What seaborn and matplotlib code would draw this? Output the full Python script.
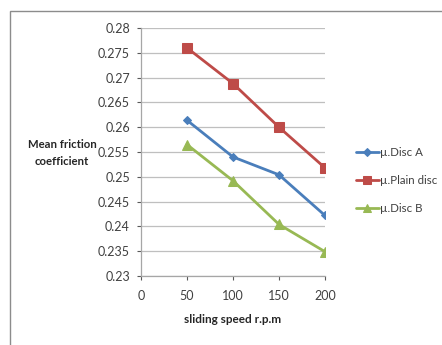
import matplotlib
matplotlib.use("Agg")
import matplotlib.pyplot as plt
import seaborn as sns
import pandas as pd
from matplotlib.patches import Rectangle

speeds = [50, 100, 150, 200]
disc_a = [0.2614, 0.2540, 0.2504, 0.2422]
plain_disc = [0.2760, 0.2688, 0.2600, 0.2518]
disc_b = [0.2565, 0.2492, 0.2404, 0.2349]
series_names = ["µ.Disc A", "µ.Plain disc", "µ.Disc B"]
y_ticks = [0.23, 0.235, 0.24, 0.245, 0.25, 0.255, 0.26, 0.265, 0.27, 0.275, 0.28]
y_tick_labels = ["0.23", "0.235", "0.24", "0.245", "0.25", "0.255", "0.26", "0.265", "0.27", "0.275", "0.28"]
x_ticks = [0, 50, 100, 150, 200]

rows = []
for name, vals in zip(series_names, [disc_a, plain_disc, disc_b]):
    for s, v in zip(speeds, vals):
        rows.append({"speed": s, "mu": v, "series": name})
df = pd.DataFrame(rows)

sns.set_theme(style="white")
plt.rcParams['font.family'] = ['Lato', 'DejaVu Sans']

fig = plt.figure(figsize=(4.42, 3.45), dpi=100)
fig.patch.set_facecolor("white")
fig.patches.append(Rectangle((10/442, -0.1), 1.2, (345-11)/345 + 0.1, transform=fig.transFigure,
                             fill=False, edgecolor="#8c8c8c", linewidth=1.0))
ax = fig.add_axes([141/442, 69/345, 184/442, 248/345])

palette = {"µ.Disc A": "#4A7EBB", "µ.Plain disc": "#BE4B48", "µ.Disc B": "#98B954"}
markers = {"µ.Disc A": "D", "µ.Plain disc": "s", "µ.Disc B": "^"}
sizes = {"µ.Disc A": 4.5, "µ.Plain disc": 7, "µ.Disc B": 7}

for name in series_names:
    sub = df[df.series == name]
    sns.lineplot(data=sub, x="speed", y="mu", ax=ax, color=palette[name], marker=markers[name],
                 markersize=sizes[name], markeredgecolor=palette[name], linewidth=2.0, label=name)

ax.set_xlim(0, 200)
ax.set_ylim(0.23, 0.28)
ax.set_yticks(y_ticks)
ax.set_yticklabels(y_tick_labels)
ax.set_xticks(x_ticks)
ax.yaxis.grid(True, color="#bfbfbf", linewidth=0.9)
ax.xaxis.grid(False)
ax.set_axisbelow(True)
for sp in ["top", "right"]:
    ax.spines[sp].set_visible(False)
for sp in ["left", "bottom"]:
    ax.spines[sp].set_color("#a6a6a6")
    ax.spines[sp].set_linewidth(0.9)
ax.tick_params(axis="both", which="major", labelsize=9, colors="#595959", labelcolor="#404040",
               length=3, width=0.8, direction="out", left=True, bottom=True)
ax.tick_params(axis="y", pad=5)
ax.tick_params(axis="x", pad=7)

ax.set_xlabel("sliding speed r.p.m", fontsize=8.5, fontweight="bold", color="#262626", labelpad=9)
ax.set_ylabel("")
fig.text(62/442, 1 - 153/345, "Mean friction\ncoefficient", ha="center", va="center",
         fontsize=8.2, fontweight="bold", color="#262626", linespacing=1.75)

leg = ax.legend(loc="center left", bbox_to_anchor=(1.11, 0.385), frameon=False, fontsize=8.3,
                handlelength=2.0, handletextpad=0.1, labelspacing=1.45, markerscale=0.85)
for t in leg.get_texts():
    t.set_color("#404040")

fig.savefig("out.png", dpi=100)
